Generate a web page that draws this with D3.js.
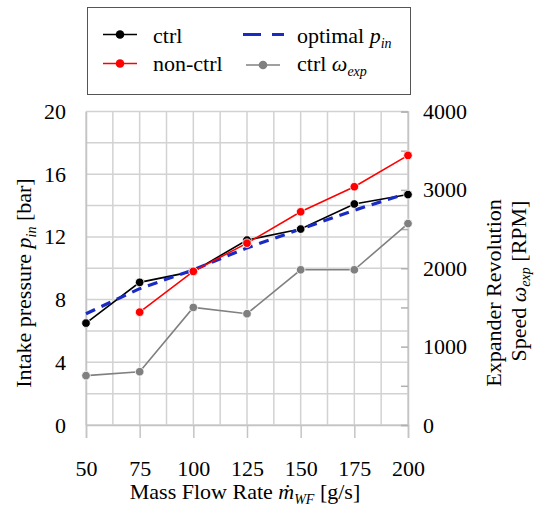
<!DOCTYPE html>
<html>
<head>
<meta charset="utf-8">
<script src="https://cdn.jsdelivr.net/npm/d3@7"></script>
<style>
  body { margin: 0; background: #fff; }
  text { font-family: "Liberation Serif", "Times New Roman", serif; fill: #000; }
</style>
</head>
<body>
<svg id="chart" width="535" height="511"></svg>
<script>
// data
const flow = [50, 75, 100, 125, 150, 175, 200];           // g/s
const ctrlP = [6.5, 9.1, 9.8, 11.8, 12.5, 14.1, 14.7];     // bar
const nonCtrlFlow = [75, 100, 125, 150, 175, 200];
const nonCtrlP = [7.2, 9.8, 11.6, 13.6, 15.2, 17.2];       // bar
const optimalP = [7.1, 8.7, 9.9, 11.3, 12.5, 13.7, 14.8];  // bar
const ctrlOmega = [630, 680, 1500, 1420, 1980, 1980, 2570]; // RPM
const xTicks = [50, 75, 100, 125, 150, 175, 200];
const yTicks = [0, 4, 8, 12, 16, 20];
const rTicks = [0, 1000, 2000, 3000, 4000];

const svg = d3.select('#chart');
const x = d3.scaleLinear().domain([50, 200]).range([86, 408]);
const yL = d3.scaleLinear().domain([0, 20]).range([425, 111.5]);
const yR = d3.scaleLinear().domain([0, 4000]).range([425, 111.5]);

const gridColor = '#d2d2d2';

// grid
const grid = svg.append('g');
grid.selectAll('line.v')
  .data(d3.range(50, 200.01, 12.5))
  .enter().append('line')
  .attr('x1', d => x(d)).attr('x2', d => x(d))
  .attr('y1', yL(20)).attr('y2', yL(0))
  .attr('stroke', gridColor).attr('stroke-width', 1.5);
grid.selectAll('line.h')
  .data(d3.range(0, 20.01, 2))
  .enter().append('line')
  .attr('x1', x(50)).attr('x2', x(200))
  .attr('y1', d => yL(d)).attr('y2', d => yL(d))
  .attr('stroke', gridColor).attr('stroke-width', 1.5);

// axes
const xAxis = svg.append('g')
  .attr('transform', `translate(0,${yL(0)})`)
  .call(d3.axisBottom(x).tickValues(xTicks).tickSize(13).tickPadding(22));
const leftAxis = svg.append('g')
  .attr('transform', `translate(${x(50)},0)`)
  .call(d3.axisLeft(yL).tickValues(yTicks).tickSize(0).tickPadding(20));
const rightAxis = svg.append('g')
  .attr('transform', `translate(${x(200)},0)`)
  .call(d3.axisRight(yR).tickValues(d3.range(0, 4001, 500)).tickSize(-7).tickPadding(15)
    .tickFormat(d => rTicks.includes(d) ? String(d) : ''));

[xAxis, leftAxis, rightAxis].forEach(a => {
  a.select('.domain').attr('stroke', '#c4c4c4').attr('stroke-width', 1.5);
  a.selectAll('.tick line').attr('stroke', '#c4c4c4').attr('stroke-width', 1.5);
  a.selectAll('.tick text')
    .attr('font-family', '"Liberation Serif", "Times New Roman", serif')
    .attr('font-size', 22).attr('fill', '#000');
});
rightAxis.selectAll('.tick line').attr('stroke', '#b0b0b0');

// series
const ptsCtrl = flow.map((f, i) => [f, ctrlP[i]]);
const ptsNon = nonCtrlFlow.map((f, i) => [f, nonCtrlP[i]]);
const ptsOpt = flow.map((f, i) => [f, optimalP[i]]);
const ptsOmega = flow.map((f, i) => [f, ctrlOmega[i]]);

const lineL = d3.line().x(d => x(d[0])).y(d => yL(d[1]));
const lineR = d3.line().x(d => x(d[0])).y(d => yR(d[1]));

svg.append('path').attr('d', lineR(ptsOmega))
  .attr('fill', 'none').attr('stroke', '#808080').attr('stroke-width', 1.6);
svg.append('path').attr('d', lineL(ptsCtrl))
  .attr('fill', 'none').attr('stroke', '#000').attr('stroke-width', 1.6);
svg.append('path').attr('d', lineL(ptsOpt))
  .attr('fill', 'none').attr('stroke', '#1a2bc4').attr('stroke-width', 3.2)
  .attr('stroke-dasharray', '10,7');
svg.append('path').attr('d', lineL(ptsNon))
  .attr('fill', 'none').attr('stroke', '#ff0000').attr('stroke-width', 1.6);

function dots(pts, yScale, color) {
  svg.append('g').selectAll('circle')
    .data(pts).enter().append('circle')
    .attr('cx', d => x(d[0])).attr('cy', d => yScale(d[1]))
    .attr('r', 4.3).attr('fill', color)
    .attr('stroke', '#fff').attr('stroke-width', 0.8);
}
dots(ptsOmega, yR, '#808080');
dots(ptsCtrl, yL, '#000');
dots(ptsNon, yL, '#ff0000');

// axis titles
const font = 22;
const xTitle = svg.append('text')
  .attr('x', 245).attr('y', 499).attr('text-anchor', 'middle').attr('font-size', font);
xTitle.append('tspan').text('Mass Flow Rate ');
xTitle.append('tspan').attr('font-style', 'italic').text('ṁ');
xTitle.append('tspan').attr('font-style', 'italic').attr('font-size', 14).attr('dy', 5).text('WF');
xTitle.append('tspan').attr('dy', -5).text(' [g/s]');

const yTitle = svg.append('text')
  .attr('transform', 'translate(31,283) rotate(-90)')
  .attr('text-anchor', 'middle').attr('font-size', font);
yTitle.append('tspan').text('Intake pressure ');
yTitle.append('tspan').attr('font-style', 'italic').text('p');
yTitle.append('tspan').attr('font-style', 'italic').attr('font-size', 14).attr('dy', 5).text('in');
yTitle.append('tspan').attr('dy', -5).text(' [bar]');

svg.append('text')
  .attr('transform', 'translate(501,293) rotate(-90)')
  .attr('text-anchor', 'middle').attr('font-size', font)
  .text('Expander Revolution');
const rTitle = svg.append('text')
  .attr('transform', 'translate(526,281) rotate(-90)')
  .attr('text-anchor', 'middle').attr('font-size', font);
rTitle.append('tspan').text('Speed ');
rTitle.append('tspan').attr('font-style', 'italic').text('ω');
rTitle.append('tspan').attr('font-style', 'italic').attr('font-size', 14).attr('dy', 4).text('exp');
rTitle.append('tspan').attr('dy', -4).text(' [RPM]');

// legend
const legend = svg.append('g');
legend.append('rect')
  .attr('x', 87.5).attr('y', 7.5).attr('width', 323).attr('height', 87)
  .attr('fill', '#fff').attr('stroke', '#555').attr('stroke-width', 1);

function legendLine(x0, x1, yy, color, dash, width, dot) {
  legend.append('line')
    .attr('x1', x0).attr('x2', x1).attr('y1', yy).attr('y2', yy)
    .attr('stroke', color).attr('stroke-width', width)
    .attr('stroke-dasharray', dash);
  if (dot) {
    legend.append('circle').attr('cx', (x0 + x1) / 2).attr('cy', yy)
      .attr('r', 4.3).attr('fill', color);
  }
}
legendLine(103, 137, 34.5, '#000', null, 1.6, true);
legendLine(103, 137, 63.5, '#ff0000', null, 1.6, true);
legendLine(243, 284, 34.5, '#1a2bc4', '18,11', 3.2, false);
legendLine(246, 280, 65, '#808080', null, 1.6, true);

legend.append('text').attr('x', 153).attr('y', 42.5).attr('font-size', font).text('ctrl');
legend.append('text').attr('x', 153).attr('y', 71).attr('font-size', font).text('non-ctrl');
const lo = legend.append('text').attr('x', 297).attr('y', 42.5).attr('font-size', font);
lo.append('tspan').text('optimal ');
lo.append('tspan').attr('font-style', 'italic').text('p');
lo.append('tspan').attr('font-style', 'italic').attr('font-size', 14).attr('dy', 5).text('in');
const lw = legend.append('text').attr('x', 297).attr('y', 71).attr('font-size', font);
lw.append('tspan').text('ctrl ');
lw.append('tspan').attr('font-style', 'italic').text('ω');
lw.append('tspan').attr('font-style', 'italic').attr('font-size', 14).attr('dy', 5).text('exp');
</script>
</body>
</html>
